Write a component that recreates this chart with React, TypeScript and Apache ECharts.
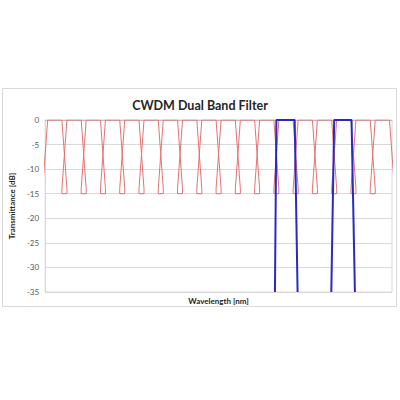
import React, { useEffect, useRef } from "react";
import * as echarts from "echarts";

// CWDM channel centre wavelengths (nm)
const cwdmCenters = [1270, 1290, 1310, 1330, 1350, 1370, 1390, 1410, 1430, 1450, 1470, 1490, 1510, 1530, 1550, 1570, 1590, 1610];
// channel shape offsets from centre (nm) and levels (dB)
const edgeInner = 7.4;
const edgeOuter = 12.6;
const topLevel = 0;
const kneeLevel = -14;
const floorLevel = -15;

// Dual band filter passbands: [wavelength nm, dB]
const band1 = [[1498.5, -35], [1500, 0], [1519, 0], [1522, -35]];
const band2 = [[1557, -35], [1560, 0], [1578, 0], [1581.5, -35]];

const yTicks = { min: -35, max: 0, interval: 5 };
const xRange = { min: 1260, max: 1620 };

const cwdmLine: number[][] = [];
cwdmCenters.forEach((c) => {
  cwdmLine.push([c - edgeOuter, floorLevel]);
  cwdmLine.push([c - edgeOuter, kneeLevel]);
  cwdmLine.push([c - edgeInner, topLevel]);
  cwdmLine.push([c + edgeInner, topLevel]);
  cwdmLine.push([c + edgeOuter, kneeLevel]);
  cwdmLine.push([c + edgeOuter, floorLevel]);
});

export default function App() {
  const ref = useRef<HTMLDivElement>(null);
  useEffect(() => {
    if (!ref.current) return;
    const chart = echarts.init(ref.current, null, { renderer: "svg" });
    chart.setOption({
      animation: false,
      backgroundColor: "#ffffff",
      title: {
        text: "CWDM Dual Band Filter",
        left: "center",
        top: 94,
        textStyle: { fontFamily: "Lato", fontWeight: "bold", fontSize: 12.5, color: "#262626" },
      },
      graphic: [
        {
          type: "rect",
          shape: { x: 2.5, y: 88.5, width: 394, height: 218 },
          style: { fill: "none", stroke: "#d9d9d9", lineWidth: 1 },
          silent: true,
          z: -1,
        },
      ],
      grid: {
        left: 39,
        right: 8,
        top: 120,
        bottom: 108,
        show: true,
        borderColor: "#d9d9d9",
        borderWidth: 1,
      },
      xAxis: {
        type: "value",
        min: xRange.min,
        max: xRange.max,
        name: "Wavelength [nm]",
        nameLocation: "middle",
        nameGap: 5,
        nameTextStyle: { fontFamily: "Lato", fontWeight: "bold", fontSize: 8, color: "#262626" },
        axisLine: { show: true, lineStyle: { color: "#bfbfbf" } },
        axisTick: { show: false },
        axisLabel: { show: false },
        splitLine: { show: false },
      },
      yAxis: {
        type: "value",
        min: yTicks.min,
        max: yTicks.max,
        interval: yTicks.interval,
        name: "Transmittance [dB]",
        nameLocation: "middle",
        nameGap: 23,
        nameTextStyle: { fontFamily: "Lato", fontWeight: "bold", fontSize: 8, color: "#262626" },
        axisLine: { show: true, lineStyle: { color: "#d9d9d9" } },
        axisTick: { show: false },
        axisLabel: { fontFamily: "Lato", fontSize: 8, color: "#595959", margin: 6 },
        splitLine: { show: true, lineStyle: { color: "#d9d9d9", width: 1 } },
      },
      series: [
        {
          type: "line",
          data: cwdmLine,
          showSymbol: false,
          symbol: "none",
          clip: true,
          lineStyle: { color: "#e37373", width: 1 },
          z: 2,
        },
        {
          type: "line",
          data: band1,
          symbol: "none",
          clip: true,
          lineStyle: { color: "#2a2abf", width: 2 },
          z: 3,
        },
        {
          type: "line",
          data: band2,
          symbol: "none",
          clip: true,
          lineStyle: { color: "#2a2abf", width: 2 },
          z: 3,
        },
      ],
    });
    return () => chart.dispose();
  }, []);
  return <div ref={ref} style={{ width: 400, height: 400, position: "absolute", left: 0, top: 0 }} />;
}
